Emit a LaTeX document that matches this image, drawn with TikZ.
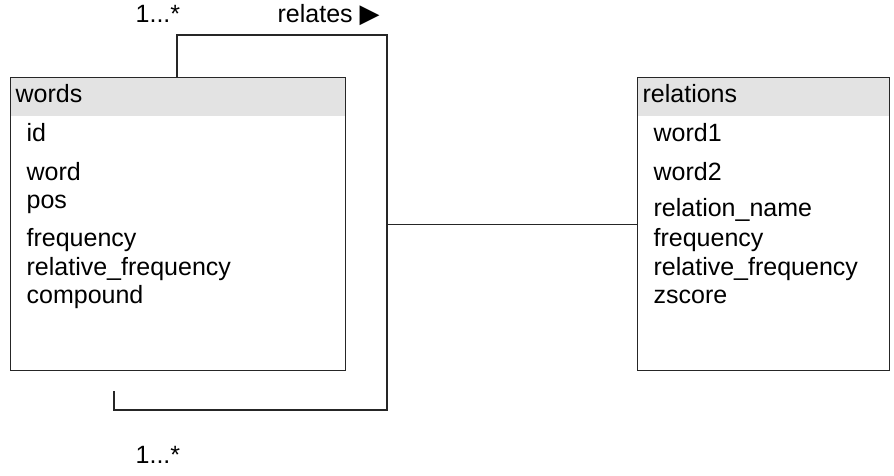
\documentclass[tikz,border=0pt]{standalone}
\usepackage{fontspec}
\setmainfont{Liberation Sans}
\newfontfamily\symfont{DejaVu Sans}
\usetikzlibrary{calc}
\usetikzlibrary{positioning}

\tikzset{
  table/.style={draw, minimum height=293, inner sep=0, anchor=north west},
  head/.style={fill=black!11, minimum height=38, inner xsep=5, inner ysep=0,
               align=left, anchor=north west},
  field/.style={anchor=base west, inner sep=0},
  mult/.style={anchor=base west, inner sep=0}
}

\begin{document}
\begin{tikzpicture}[x=1pt, y=-1pt, line width=1.3pt, draw=black!85,
    font=\fontsize{25}{29}\selectfont]
    \path[use as bounding box] (0,0) rectangle (894,476);

% words table
\node[head, text width=325] (wordsHead) at (10,77) {\strut words};
\node[table, minimum width=335] (words) at (10,77) {};
\foreach \f / \y in {id/141.7, word/180, pos/208, frequency/246.7,
                     relative\_frequency/275, compound/303}
  \node[field] at (26,\y) {\f};

% relations table
\node[head, text width=242] (relationsHead) at (637,77) {\strut relations};
\node[table, minimum width=252] (relations) at (637,77) {};
\foreach \f / \y in {word1/141.7, word2/180, relation\_name/216.7, frequency/246.7,
                     relative\_frequency/275, zscore/303}
  \node[field] at (653,\y) {\f};

% self association
\coordinate (loopEnd) at (114,391);
\coordinate (tee) at (387,224);
\draw ($(words.north west)+(167,0)$) -- ++(0,-42) -- ++(210,0) -- ++(0,375) -| (loopEnd);
\draw (tee |- relations.west) -- (relations.west);

\node[mult] (multTop) at (135,23) {1...*};
\node[mult] (relLabel) at (277,23) {relates {\symfont\fontsize{26}{30}\selectfont ▶}};
\node[mult] (multBot) at (135,463) {1...*};
\end{tikzpicture}
\end{document}
